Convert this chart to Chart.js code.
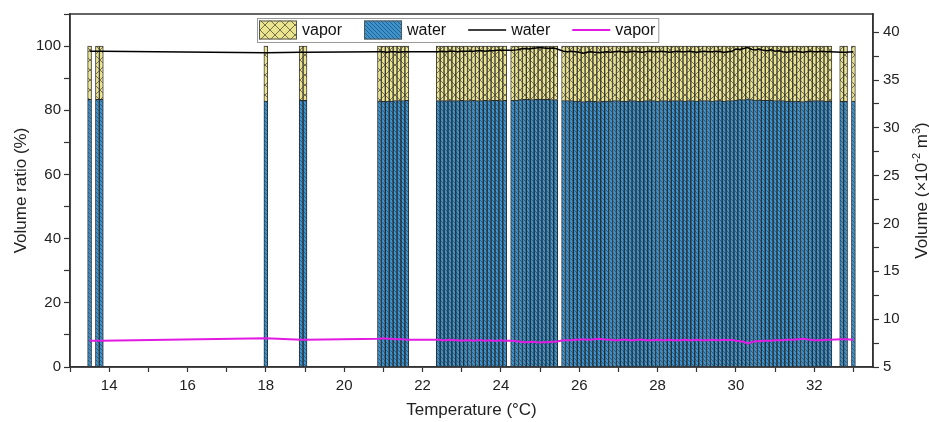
<!DOCTYPE html>
<html>
<head>
<meta charset="utf-8">
<script src="https://cdn.jsdelivr.net/npm/chart.js@4.4.0/dist/chart.umd.min.js"></script>
<style>
  body { margin: 0; background: #fff; }
</style>
</head>
<body>
<canvas id="chart" width="929" height="422"></canvas>
<script>
// measured temperatures (°C)
const temperatures = [
  13.5, 13.7, 13.8, 18.0, 18.9, 19.0,
  20.9, 21.0, 21.1, 21.2, 21.3, 21.4, 21.5, 21.6,
  22.4, 22.5, 22.6, 22.7, 22.8, 22.9, 23.0, 23.1, 23.2, 23.3,
  23.4, 23.5, 23.6, 23.7, 23.8, 23.9, 24.0, 24.1,
  24.3, 24.4, 24.5, 24.6, 24.7, 24.8, 24.9, 25.0, 25.1, 25.2, 25.3, 25.4,
  25.6, 25.7, 25.8, 25.9, 26.0, 26.1, 26.2, 26.3, 26.4, 26.5,
  26.6, 26.7, 26.8, 26.9, 27.0, 27.1, 27.2, 27.3, 27.4, 27.5,
  27.6, 27.7, 27.8, 27.9, 28.0, 28.1, 28.2, 28.3, 28.4, 28.5,
  28.6, 28.7, 28.8, 28.9, 29.0, 29.1, 29.2, 29.3, 29.4, 29.5,
  29.6, 29.7, 29.8, 29.9, 30.0, 30.1, 30.2, 30.3, 30.4, 30.5,
  30.6, 30.7, 30.8, 30.9, 31.0, 31.1, 31.2, 31.3, 31.4, 31.5,
  31.6, 31.7, 31.8, 31.9, 32.0, 32.1, 32.2, 32.3, 32.4,
  32.7, 32.8, 33.0
];

// volume ratio (%) - stacked bars
const waterRatio = [
  83.4, 83.4, 83.4, 82.9, 83.1, 83.1,
  82.9, 82.8, 82.9, 82.9, 83.0, 83.0, 83.0, 83.1,
  83.0, 83.0, 83.0, 83.0, 83.0, 83.0, 83.1, 83.0, 83.0, 83.1,
  83.0, 83.0, 83.1, 83.0, 83.1, 83.1, 83.0, 83.1,
  83.1, 83.2, 83.3, 83.4, 83.4, 83.3, 83.4, 83.5, 83.4, 83.4, 83.3, 83.3,
  83.0, 83.0, 83.0, 82.9, 82.9, 82.7, 82.9, 82.9, 82.8, 82.7,
  82.8, 82.9, 82.9, 83.0, 83.0, 82.9, 82.9, 83.0, 83.0, 82.9,
  82.9, 83.0, 83.0, 83.0, 82.9, 83.0, 83.0, 82.9, 83.0, 83.0,
  83.0, 82.9, 83.0, 83.0, 82.9, 83.0, 83.0, 83.0, 82.9, 83.0,
  83.0, 82.9, 83.0, 83.0, 83.2, 83.3, 83.3, 83.6, 83.3, 83.2,
  83.2, 83.1, 83.1, 83.1, 83.0, 83.0, 83.0, 82.9, 82.9, 82.9,
  82.8, 82.7, 82.9, 82.9, 83.0, 83.0, 83.0, 82.9, 82.9,
  82.8, 82.8, 82.9
];
const vaporRatio = [
  16.6, 16.6, 16.6, 17.1, 16.9, 16.9,
  17.1, 17.2, 17.1, 17.1, 17.0, 17.0, 17.0, 16.9,
  17.0, 17.0, 17.0, 17.0, 17.0, 17.0, 16.9, 17.0, 17.0, 16.9,
  17.0, 17.0, 16.9, 17.0, 16.9, 16.9, 17.0, 16.9,
  16.9, 16.8, 16.7, 16.6, 16.6, 16.7, 16.6, 16.5, 16.6, 16.6, 16.7, 16.7,
  17.0, 17.0, 17.0, 17.1, 17.1, 17.3, 17.1, 17.1, 17.2, 17.3,
  17.2, 17.1, 17.1, 17.0, 17.0, 17.1, 17.1, 17.0, 17.0, 17.1,
  17.1, 17.0, 17.0, 17.0, 17.1, 17.0, 17.0, 17.1, 17.0, 17.0,
  17.0, 17.1, 17.0, 17.0, 17.1, 17.0, 17.0, 17.0, 17.1, 17.0,
  17.0, 17.1, 17.0, 17.0, 16.8, 16.7, 16.7, 16.4, 16.7, 16.8,
  16.8, 16.9, 16.9, 16.9, 17.0, 17.0, 17.0, 17.1, 17.1, 17.1,
  17.2, 17.3, 17.1, 17.1, 17.0, 17.0, 17.0, 17.1, 17.1,
  17.2, 17.2, 17.1
];

// volume (x10^-2 m3) - lines on the right axis
const waterVolume = [
  38.0, 38.0, 38.0, 37.85, 37.9, 37.9,
  37.95, 37.95, 37.9, 37.95, 37.95, 37.9, 37.95, 37.95,
  37.95, 38.0, 37.95, 38.0, 38.0, 37.95, 38.0, 38.0, 38.0, 38.0,
  38.05, 38.05, 38.0, 38.05, 38.05, 38.1, 38.1, 38.1,
  38.1, 38.15, 38.25, 38.3, 38.25, 38.3, 38.35, 38.4, 38.35, 38.3, 38.35, 38.3,
  38.0, 37.95, 38.0, 37.95, 37.9, 37.8, 37.9, 37.95, 37.9, 37.85,
  37.9, 37.95, 37.9, 37.95, 38.0, 37.95, 37.9, 37.95, 38.0, 37.95,
  37.9, 37.95, 38.0, 37.95, 37.95, 38.0, 37.95, 37.9, 37.95, 38.0,
  37.95, 37.95, 38.0, 37.95, 37.9, 37.95, 38.0, 37.95, 37.95, 38.0,
  37.95, 37.9, 37.95, 38.0, 38.25, 38.2, 38.3, 38.4, 38.2, 38.15,
  38.25, 38.1, 38.05, 38.15, 38.0, 38.05, 37.95, 37.9, 37.95, 38.0,
  37.95, 37.9, 37.95, 38.0, 37.95, 37.95, 38.0, 37.95, 37.95,
  37.9, 37.9, 37.95
];
const vaporVolume = [
  7.75, 7.75, 7.75, 8.0, 7.85, 7.85,
  7.95, 8.0, 7.95, 7.95, 7.9, 7.9, 7.9, 7.85,
  7.85, 7.8, 7.8, 7.85, 7.8, 7.8, 7.75, 7.8, 7.8, 7.75,
  7.8, 7.8, 7.75, 7.8, 7.75, 7.75, 7.8, 7.75,
  7.75, 7.7, 7.65, 7.6, 7.6, 7.65, 7.6, 7.55, 7.6, 7.6, 7.65, 7.65,
  7.8, 7.8, 7.8, 7.85, 7.85, 7.9, 7.85, 7.85, 7.9, 7.95,
  7.9, 7.85, 7.85, 7.8, 7.8, 7.85, 7.85, 7.8, 7.8, 7.85,
  7.85, 7.8, 7.8, 7.8, 7.85, 7.8, 7.8, 7.85, 7.8, 7.8,
  7.8, 7.85, 7.8, 7.8, 7.85, 7.8, 7.8, 7.8, 7.85, 7.8,
  7.8, 7.85, 7.8, 7.85, 7.75, 7.7, 7.65, 7.45, 7.6, 7.7,
  7.7, 7.75, 7.75, 7.75, 7.8, 7.8, 7.8, 7.85, 7.85, 7.85,
  7.9, 7.95, 7.9, 7.85, 7.8, 7.8, 7.8, 7.85, 7.85,
  7.9, 7.9, 7.85
];

const FONT = "'Liberation Sans', Arial, sans-serif";

function makePattern(size, bg, stroke, lines) {
  const c = document.createElement('canvas');
  c.width = size;
  c.height = size;
  const g = c.getContext('2d');
  g.fillStyle = bg;
  g.fillRect(0, 0, size, size);
  g.strokeStyle = stroke;
  g.lineWidth = 1;
  lines.forEach(l => {
    g.beginPath();
    g.moveTo(l[0], l[1]);
    g.lineTo(l[2], l[3]);
    g.stroke();
  });
  return g.createPattern(c, 'repeat');
}

const ctx = document.getElementById('chart').getContext('2d');
const waterPattern = makePattern(4, '#3f93cc', '#22628f', [[0, 0, 4, 4], [-2, 2, 2, 6], [2, -2, 6, 2]]);
const vaporPattern = makePattern(10, '#ebe48f', '#77714a', [[0, 0, 10, 10], [10, 0, 0, 10]]);

const pts = vals => vals.map((v, i) => ({ x: temperatures[i], y: v }));

// box round the plot area
const frame = {
  id: 'frame',
  afterDraw(chart) {
    const a = chart.chartArea;
    const c = chart.ctx;
    c.save();
    c.strokeStyle = '#333';
    c.lineWidth = 1.5;
    c.strokeRect(a.left, a.top, a.right - a.left, a.bottom - a.top);
    c.restore();
  }
};

// legend drawn inside the plot, with a thin box round it
const insideLegend = {
  id: 'insideLegend',
  afterDraw(chart) {
    const c = chart.ctx;
    const a = chart.chartArea;
    const sets = chart.data.datasets;
    const order = [1, 0, 2, 3];
    c.save();
    c.font = '16px ' + FONT;
    let x = a.left + 187;
    const top = a.top + 4;
    const h = 24;
    const gap = 22;
    const widths = order.map(i => c.measureText(sets[i].label).width);
    const total = widths.reduce((s, w) => s + 38 + 5 + w, 0) + gap * 3 + 5;
    c.fillStyle = '#fff';
    c.fillRect(x, top, total, h);
    c.strokeStyle = '#999';
    c.lineWidth = 1;
    c.strokeRect(x + 0.5, top + 0.5, total, h);
    x += 2;
    const mid = top + h / 2;
    order.forEach((i, k) => {
      const ds = sets[i];
      if (ds.type === 'line') {
        c.strokeStyle = ds.borderColor;
        c.lineWidth = ds.borderWidth;
        c.beginPath();
        c.moveTo(x, mid);
        c.lineTo(x + 38, mid);
        c.stroke();
      } else {
        c.fillStyle = ds.backgroundColor;
        c.fillRect(x, mid - 9.5, 38, 19);
        c.strokeStyle = '#555';
        c.lineWidth = 1;
        c.strokeRect(x + 0.5, mid - 9, 37, 18);
      }
      c.fillStyle = '#111';
      c.textBaseline = 'middle';
      c.textAlign = 'left';
      c.fillText(ds.label, x + 43, mid + 1);
      x += 38 + 5 + widths[k] + gap;
    });
    c.restore();
  }
};

// right axis title, reading bottom to top, with superscripts
const rightTitle = {
  id: 'rightTitle',
  afterDraw(chart) {
    const c = chart.ctx;
    const a = chart.chartArea;
    const parts = [
      ['Volume (\u00d710', 17, 0],
      ['-2', 11, -7],
      [' m', 17, 0],
      ['3', 11, -7],
      [')', 17, 0]
    ];
    c.save();
    c.fillStyle = '#222';
    c.textBaseline = 'alphabetic';
    let total = 0;
    parts.forEach(p => { c.font = p[1] + 'px ' + FONT; total += c.measureText(p[0]).width; });
    c.translate(921, (a.top + a.bottom) / 2);
    c.rotate(-Math.PI / 2);
    let x = -total / 2;
    parts.forEach(p => {
      c.font = p[1] + 'px ' + FONT;
      c.fillText(p[0], x, 6 + p[2]);
      x += c.measureText(p[0]).width;
    });
    c.restore();
  }
};

new Chart(ctx, {
  data: {
    datasets: [
      {
        type: 'bar',
        label: 'water',
        data: pts(waterRatio),
        backgroundColor: waterPattern,
        borderColor: '#2a2a2a',
        borderWidth: 1,
        yAxisID: 'y',
        order: 2
      },
      {
        type: 'bar',
        label: 'vapor',
        data: pts(vaporRatio),
        backgroundColor: vaporPattern,
        borderColor: '#3a3a3a',
        borderWidth: 1,
        yAxisID: 'y',
        order: 2
      },
      {
        type: 'line',
        label: 'water',
        data: pts(waterVolume),
        borderColor: '#000',
        borderWidth: 1.5,
        pointRadius: 0,
        tension: 0,
        yAxisID: 'y2',
        order: 0
      },
      {
        type: 'line',
        label: 'vapor',
        data: pts(vaporVolume),
        borderColor: '#e21be2',
        borderWidth: 2,
        pointRadius: 0,
        tension: 0,
        yAxisID: 'y2',
        order: 0
      }
    ]
  },
  options: {
    responsive: false,
    animation: false,
    layout: { padding: { top: 14, left: 0, right: 0, bottom: 0 } },
    datasets: { bar: { barPercentage: 1, categoryPercentage: 1 } },
    plugins: {
      legend: { display: false },
      tooltip: { enabled: false }
    },
    scales: {
      x: {
        type: 'linear',
        min: 13,
        max: 33.5,
        offset: false,
        stacked: true,
        grid: { drawOnChartArea: false, offset: false, tickLength: 5, tickColor: '#333', tickWidth: 1.2 },
        border: { color: '#333', width: 1.5 },
        ticks: {
          stepSize: 1,
          includeBounds: false,
          autoSkip: false,
          maxRotation: 0,
          padding: 5,
          color: '#222',
          font: { size: 15, family: FONT },
          callback: v => (v % 2 === 0 ? v : '')
        },
        title: {
          display: true,
          text: 'Temperature (\u00b0C)',
          color: '#222',
          font: { size: 17, family: FONT },
          padding: { top: 0, bottom: 1 }
        },
        afterFit: s => { s.height = 55; }
      },
      y: {
        position: 'left',
        min: 0,
        max: 110,
        stacked: true,
        grid: { drawOnChartArea: false, tickLength: 6, tickColor: '#333', tickWidth: 1.2 },
        border: { color: '#333', width: 1.5 },
        ticks: {
          stepSize: 10,
          padding: 3,
          autoSkip: false,
          color: '#222',
          font: { size: 15, family: FONT },
          callback: v => (v % 20 === 0 && v <= 100 ? v : '')
        },
        title: {
          display: true,
          text: 'Volume ratio (%)',
          color: '#222',
          font: { size: 17, family: FONT },
          padding: { top: 11, bottom: 0 }
        },
        afterFit: s => { s.width = 70; }
      },
      y2: {
        position: 'right',
        min: 5,
        max: 41.9,
        grid: { drawOnChartArea: false, tickLength: 6, tickColor: '#333', tickWidth: 1.2 },
        border: { color: '#333', width: 1.5 },
        ticks: {
          stepSize: 2.5,
          includeBounds: false,
          autoSkip: false,
          padding: 4,
          color: '#222',
          font: { size: 15, family: FONT },
          callback: v => (v % 5 === 0 ? v : '')
        },
        afterFit: s => { s.width = 56; }
      }
    }
  },
  plugins: [frame, insideLegend, rightTitle]
});
</script>
</body>
</html>
